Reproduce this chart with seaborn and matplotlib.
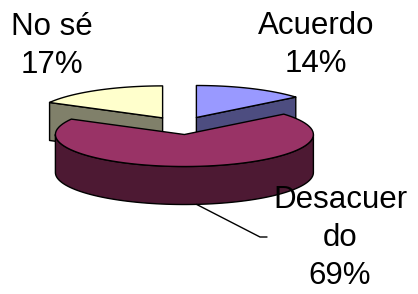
import numpy as np
import matplotlib
matplotlib.use("Agg")
import matplotlib.pyplot as plt
import seaborn as sns
from matplotlib.patches import Polygon

# datos de la encuesta
labels = ["Acuerdo", "Desacuerdo", "No sé"]
values = [14, 69, 17]
label_text = ["Acuerdo\n14%", "Desacuer\ndo\n69%", "No sé\n17%"]
top_colors = ["#9999FF", "#993366", "#FFFFCC"]
side_colors = ["#4D4D80", "#4D1933", "#80806A"]

sns.set_theme(style="white")
plt.rcParams['font.family'] = ['Liberation Sans', 'DejaVu Sans']

W, H = 418, 294
fig = plt.figure(figsize=(W / 100, H / 100), dpi=100)
ax = fig.add_axes([0, 0, 1, 1])
ax.set_xlim(0, W)
ax.set_ylim(H, 0)
ax.axis("off")

# geometria del pastel 3D (pixeles)
cx0, cy0 = 181, 125.6
a, b, depth = 129, 32, 38
explode = 0.28


def rim(cx, cy, th, dy=0):
    t = np.radians(th)
    return cx + a * np.sin(t), cy - b * np.cos(t) + dy


def arc(cx, cy, t0, t1, dy=0, n=80):
    th = np.linspace(t0, t1, n)
    x, y = rim(cx, cy, th, dy)
    return np.column_stack([x, y])


total = sum(values)
starts = np.cumsum([0] + values[:-1]) / total * 360
ends = np.cumsum(values) / total * 360
mids = (starts + ends) / 2
centers = []
for s, e, m in zip(starts, ends, mids):
    t = np.radians(m)
    centers.append((cx0 + explode * a * np.sin(t), cy0 - explode * b * np.cos(t)))

kw = dict(edgecolor="black", linewidth=1.0, joinstyle="round")
order = [2, 0, 1]  # de atras hacia adelante
z = 1
for i in order:
    s, e = starts[i], ends[i]
    cx, cy = centers[i]
    # caras radiales visibles
    for ang, nrm in ((s, s - 90), (e, e + 90)):
        if np.cos(np.radians(nrm)) < -1e-6:
            px, py = rim(cx, cy, ang)
            quad = [(cx, cy), (px, py), (px, py + depth), (cx, cy + depth)]
            ax.add_patch(Polygon(quad, closed=True, facecolor=side_colors[i], zorder=z, **kw))
            z += 1
    # lado exterior (frente)
    f0, f1 = max(s, 90), min(e, 270)
    if f1 > f0:
        upper = arc(cx, cy, f0, f1)
        lower = arc(cx, cy, f0, f1, dy=depth)[::-1]
        ax.add_patch(Polygon(np.vstack([upper, lower]), closed=True,
                             facecolor=side_colors[i], zorder=z, **kw))
        z += 1
    # cara superior
    top = np.vstack([[(cx, cy)], arc(cx, cy, s, e)])
    ax.add_patch(Polygon(top, closed=True, facecolor=top_colors[i], zorder=z, **kw))
    z += 1

# etiquetas
fs = 22.5
ls = 1.36
ax.text(316, 45, label_text[0], ha="center", va="center", fontsize=fs,
        linespacing=ls, color="black", zorder=20)
ax.text(52, 46, label_text[2], ha="center", va="center", fontsize=fs,
        linespacing=ls, color="black", zorder=20)
ax.text(340, 238, label_text[1], ha="center", va="center", fontsize=fs,
        linespacing=ls, color="black", zorder=20)

# linea guia de Desacuerdo
lx, ly = rim(*centers[1], mids[1], dy=depth)
ax.plot([lx, 260, 267], [ly, 237, 237], color="black", linewidth=1.0, zorder=19)

fig.savefig("out.png", dpi=100)
